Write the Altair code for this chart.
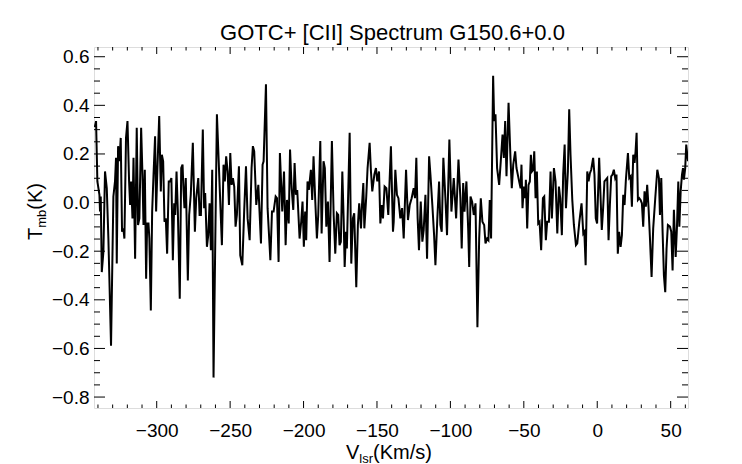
import altair as alt
import pandas as pd

title_text = "GOTC+ [CII] Spectrum G150.6+0.0"

velocity = [
    -342.2, -341.3, -340.4, -339.0, -338.6, -338.1, -337.4, -336.3, -335.2, -334.0,
    -332.9, -331.1, -329.5, -328.4, -327.7, -327.2, -326.3, -325.4, -324.5, -323.6,
    -322.7, -322.0, -320.9, -319.9, -318.8, -318.1, -317.4, -316.5, -315.8, -314.7,
    -313.6, -312.7, -311.8, -310.6, -309.7, -309.0, -308.1, -307.2, -306.5, -305.6,
    -305.0, -304.0, -303.1, -302.2, -301.1, -300.4, -299.5, -298.3, -297.2, -296.5,
    -295.6, -294.7, -293.8, -292.9, -291.8, -290.9, -290.0, -289.0, -288.1, -287.4,
    -286.5, -285.6, -284.3, -283.3, -282.4, -281.8, -281.1, -280.2, -278.8, -277.9,
    -276.8,
    -275.4, -274.0, -273.1, -271.7, -270.8, -269.9, -268.6, -267.7, -267.0, -265.8,
    -264.9, -264.0, -263.1, -262.2, -261.3, -259.0, -255.6, -254.5, -253.6, -252.7,
    -251.7, -250.8, -249.9, -249.0, -248.1, -247.2, -246.3, -245.4, -244.0, -243.1,
    -241.7, -240.4, -239.2, -238.1, -236.7, -235.4, -234.5, -233.6, -232.2, -230.8,
    -229.0, -227.9, -227.2, -225.6, -224.5, -222.6, -221.5, -220.4, -219.0, -218.1,
    -217.0, -216.1, -214.5, -213.3, -212.2, -211.3, -210.1, -209.2, -208.1, -207.0,
    -206.1, -205.2, -204.3, -202.7, -201.6, -200.7, -199.8, -198.9, -198.2, -197.3,
    -196.4, -195.0, -194.1, -193.2, -192.1, -190.9, -190.0, -188.6, -187.7, -186.4,
    -185.5, -184.5, -183.4, -182.3, -180.7, -179.5, -178.4, -177.3, -176.4, -175.5,
    -174.6, -173.6, -172.7, -172.0, -171.1, -170.5, -168.6, -167.5, -166.4, -165.5,
    -164.1, -163.0, -162.1, -160.9, -160.2, -159.3, -158.6, -157.3, -156.4, -155.0,
    -154.1, -153.2, -151.8, -150.7, -149.8, -148.6, -147.7, -146.8, -145.9, -144.8,
    -143.6, -142.3, -140.5, -139.1,
    -138.6, -137.5, -136.4, -135.4, -134.1, -132.9, -131.8, -130.2, -128.9, -127.7,
    -126.4, -125.0, -124.1, -123.2, -122.3, -121.4, -120.2, -119.1, -118.2, -117.0,
    -115.9, -114.5, -113.6, -112.3, -111.1, -110.2, -108.9, -107.7, -106.8, -105.9,
    -104.8, -103.4, -102.3, -100.7, -99.3, -97.7, -96.1, -94.5, -93.2, -92.3,
    -91.3, -90.4, -89.1, -87.9, -87.2, -86.3, -85.2, -84.1, -82.9, -81.6,
    -80.4, -79.3, -78.2, -77.0, -76.1, -75.0, -74.1, -73.2, -72.3, -70.9,
    -70.2, -69.3, -68.2, -66.8, -65.7, -64.5, -63.6, -62.7, -61.8, -60.4,
    -59.1, -58.2, -57.2, -55.9, -55.0, -54.1, -53.2, -52.2, -51.6, -50.9,
    -50.0, -49.1, -48.6, -47.7, -46.8, -45.9, -45.2, -44.5, -43.6, -42.9,
    -42.0, -41.1, -40.2, -39.3, -38.2, -37.0, -36.1, -35.0, -34.1, -32.9,
    -31.8, -30.9, -29.5, -28.4, -27.2, -26.1, -25.2, -24.1, -23.2, -22.2,
    -21.3, -20.0, -19.1, -18.2, -17.0, -15.9, -14.5, -13.6, -12.2, -10.7,
    -9.5, -8.8, -7.9, -6.8, -5.9, -5.0, -4.1,
    -2.8, -1.9, -1.0, -0.1, 1.3, 2.2, 3.1, 4.0, 4.9, 5.9,
    6.8, 7.7, 8.6, 9.5, 10.4, 11.3, 12.2, 13.1, 14.0, 14.9,
    15.9, 16.8, 17.7, 18.6, 19.5, 20.9, 21.8, 22.7, 23.6, 24.5,
    25.4, 26.1, 26.8, 27.7, 28.6, 29.5, 30.4, 31.3, 32.2, 33.1,
    34.0, 34.9, 35.9, 37.0, 38.1, 39.5, 40.9, 42.0, 42.7, 43.6,
    44.5, 45.4, 46.3, 47.2, 48.1, 49.5, 50.4, 51.3, 52.2, 53.4,
    54.3, 55.2, 55.9, 56.8, 57.7, 58.4, 59.0, 59.9, 60.6, 61.3,
    61.8,
]

tmb = [
    0.31, 0.335, 0.087, 0.032, -0.037, 0.025, -0.286, -0.203, 0.128, 0.059,
    -0.148, -0.589, 0.025, 0.087, 0.184, -0.251, 0.232, 0.170, 0.266, -0.120,
    -0.106, -0.148, 0.266, 0.335, 0.087, -0.010, 0.087, -0.065, 0.184, -0.231,
    0.308, -0.092, -0.065, 0.308, 0.115, -0.092, 0.135, -0.313, -0.086, -0.086,
    -0.148, -0.444, -0.037, 0.108, 0.273, -0.037, 0.142, 0.356, 0.046, 0.197,
    0.170, -0.079, -0.065, -0.210, 0.087, 0.087, 0.101, -0.237, -0.003, -0.051,
    0.128, -0.037, -0.396, 0.142, 0.156, 0.059, -0.023, 0.101, -0.320, -0.051,
    0.032,
    0.246, -0.120, 0.018, 0.101, -0.051, -0.051, 0.301, -0.023, 0.039, -0.182,
    -0.134, -0.003, -0.196, 0.135, -0.720, 0.363, -0.175, 0.156, 0.087, 0.190,
    0.128, -0.010, 0.204, 0.073, 0.101, 0.066, -0.099, -0.051, 0.149, -0.217,
    -0.258, -0.030, 0.149, -0.065, -0.155, 0.142, 0.232, 0.211, -0.010, 0.073,
    -0.168, 0.156, 0.170, 0.487, -0.023, -0.237, -0.037, -0.037, 0.025, 0.018,
    -0.244, 0.204, -0.037, 0.128, -0.175, 0.011, -0.086, 0.218, 0.059, -0.030,
    0.163, 0.032, 0.052, -0.148, -0.079, 0.004, -0.182, -0.037, -0.155, 0.087,
    0.052, 0.135, 0.011, 0.190, 0.018, -0.148, -0.051, 0.253, -0.127, 0.170,
    0.142, -0.099, 0.004, -0.244, 0.253, -0.051, -0.210, -0.044, -0.051, -0.175,
    -0.161, 0.128, -0.065, -0.265, -0.120, -0.189, 0.287, -0.251, -0.065, -0.044,
    -0.348, -0.092, -0.003, -0.106, -0.010, 0.080, -0.106, 0.025, 0.142, 0.246,
    0.128, 0.046, 0.115, 0.142, 0.087, 0.128, -0.086, -0.010, -0.065, 0.066,
    0.059, -0.051, 0.232, -0.120,
    -0.079, 0.135, 0.032, 0.018, -0.065, -0.023, -0.148, 0.135, -0.072, -0.010,
    0.018, 0.059, 0.018, 0.184, -0.065, -0.196, 0.004, -0.161, -0.113, 0.032,
    -0.231, 0.190, 0.115, -0.010, -0.134, -0.258, -0.065, 0.087, -0.092, -0.120,
    0.184, 0.018, -0.134, 0.259, -0.037, 0.101, -0.065, 0.177, 0.018, -0.189,
    0.080, -0.037, 0.087, -0.106, -0.265, 0.025, 0.004, -0.051, -0.003, -0.513,
    -0.148, 0.018, -0.079, -0.092, -0.168, -0.148, -0.155, 0.011, -0.148, 0.522,
    0.335, 0.363, 0.142, 0.073, 0.170, 0.280, 0.184, 0.335, 0.108, 0.411,
    0.184, 0.059, 0.156, 0.211, 0.142, 0.115, 0.087, 0.059, 0.156, -0.023,
    0.066, 0.018, 0.094, -0.106, 0.073, 0.087, 0.197, 0.128, 0.135, 0.211,
    0.018, 0.128, -0.086, -0.079, -0.196, 0.018, 0.025, -0.155, -0.079, -0.079,
    0.128, -0.065, 0.142, 0.087, -0.127, 0.066, 0.018, -0.134, 0.115, 0.239,
    -0.023, 0.128, 0.384, 0.197, 0.011, -0.092, -0.175, -0.168, -0.079, -0.003,
    -0.127, -0.120, -0.258, 0.128, 0.087, 0.121, 0.135,
    0.184, 0.115, -0.065, -0.086, 0.184, 0.032, -0.113, -0.023, 0.087, 0.094,
    0.101, -0.155, -0.010, 0.108, 0.115, 0.135, 0.101, 0.115, -0.210, -0.120,
    -0.182, -0.134, 0.032, -0.010, 0.094, 0.204, 0.101, 0.108, -0.017, 0.197,
    0.163, 0.211, 0.287, 0.011, 0.018, 0.011, -0.003, -0.099, 0.046, -0.017,
    0.073, -0.017, -0.148, -0.306, -0.106, 0.018, 0.135, 0.101, -0.051, 0.101,
    -0.120, -0.300, -0.369, -0.189, -0.092, -0.099, -0.120, -0.279, -0.030, -0.224,
    -0.099, 0.087, -0.099, 0.046, 0.115, 0.142, 0.094, 0.142, 0.239, 0.197,
    0.170,
]

assert len(velocity) == len(tmb)

x_major = [-300, -250, -200, -150, -100, -50, 0, 50]
x_minor = [-340, -330, -320, -310, -290, -280, -270, -260, -240, -230, -220, -210,
           -190, -180, -170, -160, -140, -130, -120, -110, -90, -80, -70, -60,
           -40, -30, -20, -10, 10, 20, 30, 40, 60]
y_major = [-0.8, -0.6, -0.4, -0.2, 0.0, 0.2, 0.4, 0.6]
y_minor = [-0.75, -0.7, -0.65, -0.55, -0.5, -0.45, -0.35, -0.3, -0.25,
           -0.15, -0.1, -0.05, 0.05, 0.1, 0.15, 0.25, 0.3, 0.35, 0.45, 0.5, 0.55]

W, H = 594, 361
FONT = "Liberation Sans"

xs = alt.Scale(domain=[-342.7, 61.8], nice=False, zero=False)
ys = alt.Scale(domain=[-0.845, 0.64], nice=False, zero=False)

xaxis = alt.Axis(values=x_major, format="d", ticks=False, tickSize=0, domain=False,
                 grid=False, labelFont=FONT, labelFontSize=19, labelColor="black",
                 labelPadding=13, title="", labelFlush=False, labelOverlap=False)
yaxis = alt.Axis(values=y_major, format=".1f", ticks=False, tickSize=0, domain=False,
                 grid=False, labelFont=FONT, labelFontSize=19, labelColor="black",
                 labelPadding=5, title="", labelFlush=False, labelOverlap=False)

df = pd.DataFrame({"v": velocity, "T": tmb})

line = alt.Chart(df).mark_line(color="black", strokeWidth=2.0, clip=True).encode(
    x=alt.X("v:Q", scale=xs, axis=xaxis),
    y=alt.Y("T:Q", scale=ys, axis=yaxis),
)

def xticks(values, y0, y1):
    return alt.Chart(pd.DataFrame({"v": values})).mark_rule(color="black", strokeWidth=1).encode(
        x=alt.X("v:Q", scale=xs, axis=xaxis), y=alt.value(y0), y2=alt.value(y1))

def yticks(values, x0, x1):
    return alt.Chart(pd.DataFrame({"T": values})).mark_rule(color="black", strokeWidth=1).encode(
        y=alt.Y("T:Q", scale=ys, axis=yaxis), x=alt.value(x0), x2=alt.value(x1))

ticks = [
    xticks(x_major, H, H - 7), xticks(x_minor, H, H - 3.5),
    xticks(x_major, 0, 7), xticks(x_minor, 0, 3.5),
    yticks(y_major, 0, 11), yticks(y_minor, 0, 6),
    yticks(y_major, W, W - 11), yticks(y_minor, W, W - 6),
]

one = pd.DataFrame({"k": [0]})

def label(text, x, y, size, angle=0, align="left"):
    return alt.Chart(one).mark_text(text=text, font=FONT, fontSize=size, color="black",
                                    align=align, baseline="alphabetic", angle=angle).encode(
        x=alt.value(x), y=alt.value(y))

texts = [
    label(title_text, 298.5, -7.0, 22, align="center"),
    label("V", 252, 411.5, 20),
    label("lsr", 265.3, 415.5, 13),
    label("(Km/s)", 279, 411.5, 20),
    label("T", -52, 193, 20, angle=270),
    label("mb", -48, 180.8, 13, angle=270),
    label("(K)", -52, 162.7, 20, angle=270),
]

chart = alt.layer(line, *ticks, *texts).properties(
    width=W, height=H,
    padding={"left": 86, "top": 39, "right": 40, "bottom": 56},
    autosize=alt.AutoSizeParams(type="none"),
).configure_view(stroke="black", strokeWidth=1.2).configure(background="white")

chart.save("out.html", embed_options={"renderer": "svg", "actions": False})
